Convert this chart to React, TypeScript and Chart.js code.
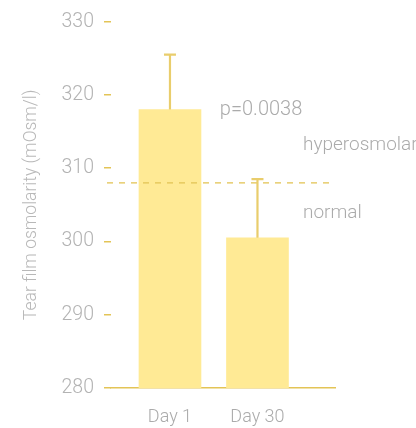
import React, { useEffect, useRef } from "react";
import { Chart, registerables } from "chart.js";

Chart.register(...registerables);

const categories = ["Day 1", "Day 30"];
const meanValues = [318.0, 300.5];
const errorTops = [325.5, 308.5];
const thresholdValue = 308;
const yTicks = [280, 290, 300, 310, 320, 330];
const noteTexts = ["p=0.0038", "hyperosmolar", "normal"];
const noteX = [0.57, 1.52, 1.52];
const noteY = [318.0, 313.1, 303.9];

const GOLD = "#E3C456";
const ERR = "#E9CD6C";
const BAR = "#FFEA95";
const TEXT = "#ABABAB";
const FONT = "Roboto, 'Liberation Sans', sans-serif";

export default function App() {
  const ref = useRef<HTMLCanvasElement | null>(null);

  useEffect(() => {
    document.body.style.margin = "0";
    const canvas = ref.current;
    if (!canvas) return;

    const overlay = {
      id: "overlay",
      afterDatasetsDraw(chart: any) {
        const ctx = chart.ctx;
        const xs = chart.scales.x;
        const ys = chart.scales.y;
        const area = chart.chartArea;
        ctx.save();
        const ty = ys.getPixelForValue(thresholdValue);
        ctx.strokeStyle = GOLD;
        ctx.lineWidth = 1.3;
        ctx.setLineDash([6, 6]);
        ctx.beginPath();
        ctx.moveTo(area.left - 4, ty);
        ctx.lineTo(area.right - 5, ty);
        ctx.stroke();
        ctx.setLineDash([]);
        ctx.strokeStyle = ERR;
        ctx.lineWidth = 2.2;
        meanValues.forEach((v, i) => {
          const x = xs.getPixelForValue(i);
          const y0 = ys.getPixelForValue(v);
          const y1 = ys.getPixelForValue(errorTops[i]);
          ctx.beginPath();
          ctx.moveTo(x, y0);
          ctx.lineTo(x, y1);
          ctx.moveTo(x - 6, y1);
          ctx.lineTo(x + 6, y1);
          ctx.stroke();
        });
        ctx.fillStyle = TEXT;
        ctx.textBaseline = "middle";
        ctx.textAlign = "left";
        noteTexts.forEach((t, i) => {
          ctx.font = `300 ${i === 0 ? 20 : 19}px ${FONT}`;
          ctx.fillText(t, xs.getPixelForValue(noteX[i]), ys.getPixelForValue(noteY[i]));
        });
        ctx.restore();
      },
    };

    const chart = new Chart(canvas, {
      type: "bar",
      data: {
        datasets: [
          {
            data: meanValues.map((v, i) => ({ x: i, y: v })),
            backgroundColor: BAR,
            borderWidth: 0,
            barThickness: 62,
          },
        ],
      },
      options: {
        animation: false,
        responsive: true,
        maintainAspectRatio: false,
        layout: { padding: { top: 21, right: 81, bottom: 0, left: 0 } },
        plugins: { legend: { display: false }, tooltip: { enabled: false } },
        scales: {
          x: {
            type: "linear",
            offset: false,
            min: -0.674,
            max: 1.886,
            afterBuildTicks: (axis: any) => {
              axis.ticks = categories.map((_, i) => ({ value: i }));
            },
            afterFit: (scale: any) => {
              scale.height = 40;
            },
            grid: { display: false, offset: false },
            border: { display: true, color: GOLD, width: 1.5 },
            ticks: {
              autoSkip: false,
              maxRotation: 0,
              padding: 11,
              color: TEXT,
              font: { family: FONT, size: 18, weight: "300" as any },
              callback: (v: any) => categories[v as number] ?? "",
            },
          },
          y: {
            min: 280,
            max: 330,
            afterBuildTicks: (axis: any) => {
              axis.ticks = yTicks.map((v) => ({ value: v }));
            },
            afterFit: (scale: any) => {
              scale.width = 111;
            },
            grid: {
              display: true,
              drawOnChartArea: false,
              drawTicks: true,
              tickLength: 7,
              color: GOLD,
              lineWidth: 1.5,
            },
            border: { display: false },
            ticks: {
              padding: 10,
              color: "#B3B3B3",
              font: { family: FONT, size: 19.5, weight: "300" as any },
            },
            title: {
              display: true,
              text: "Tear film osmolarity (mOsm/l)",
              color: "#B8B8B8",
              font: { family: FONT, size: 17.5, weight: "300" as any },
              padding: { top: 21, bottom: 0 },
            },
          },
        },
      },
      plugins: [overlay],
    });

    return () => chart.destroy();
  }, []);

  return (
    <div style={{ position: "fixed", left: 0, top: 0, width: 416, height: 428 }}>
      <canvas ref={ref} />
    </div>
  );
}
